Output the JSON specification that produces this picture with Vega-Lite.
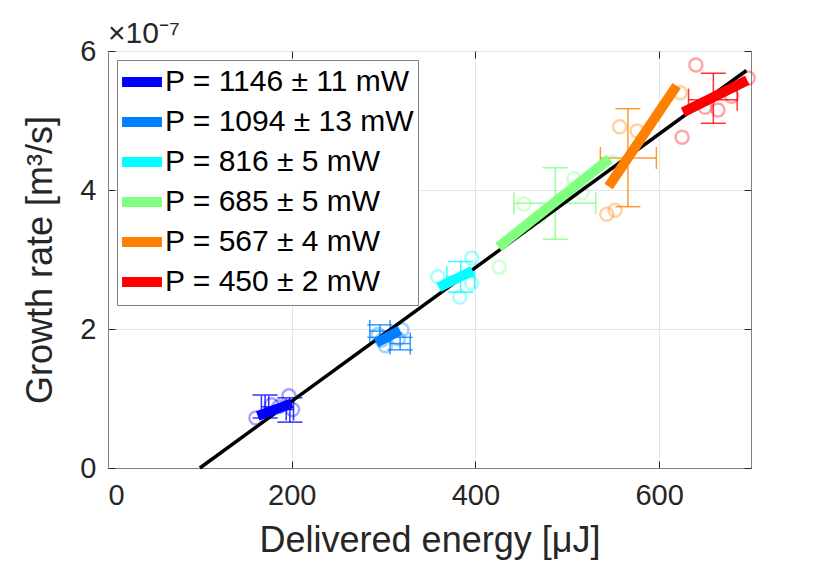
{
  "$schema": "https://vega.github.io/schema/vega-lite/v6.json",
  "width": 643,
  "height": 417,
  "autosize": {"type": "none"},
  "padding": {"left": 108, "top": 51, "right": 79, "bottom": 98},
  "background": "white",
  "config": {
    "font": "Liberation Sans",
    "view": {"stroke": "#808080", "strokeWidth": 1},
    "axis": {
      "labelFont": "Liberation Sans",
      "titleFont": "Liberation Sans",
      "labelFontSize": 29,
      "titleFontSize": 36,
      "titleFontWeight": "normal",
      "labelColor": "#262626",
      "titleColor": "#262626",
      "domainColor": "#808080",
      "tickColor": "#262626",
      "gridColor": "#e3e3e3",
      "tickSize": -7,
      "format": "d"
    },
    "legend": {
      "labelFont": "Liberation Sans",
      "labelFontSize": 30,
      "labelColor": "black"
    }
  },
  "title": {
    "text": "×10⁻⁷",
    "anchor": "start",
    "frame": "group",
    "fontSize": 30,
    "fontWeight": "normal",
    "color": "#262626",
    "font": "Liberation Sans",
    "offset": -12
  },
  "datasets": {
    "points": [
      {"series": "P = 1146 ± 11 mW", "energy": 161, "rate": 0.72},
      {"series": "P = 1146 ± 11 mW", "energy": 178, "rate": 0.91},
      {"series": "P = 1146 ± 11 mW", "energy": 186, "rate": 0.88},
      {"series": "P = 1146 ± 11 mW", "energy": 197, "rate": 1.04},
      {"series": "P = 1146 ± 11 mW", "energy": 201, "rate": 0.84},
      {"series": "P = 1094 ± 13 mW", "energy": 294, "rate": 1.92},
      {"series": "P = 1094 ± 13 mW", "energy": 302, "rate": 1.76},
      {"series": "P = 1094 ± 13 mW", "energy": 320, "rate": 1.99},
      {"series": "P = 1094 ± 13 mW", "energy": 316, "rate": 1.86},
      {"series": "P = 1094 ± 13 mW", "energy": 298, "rate": 1.84},
      {"series": "P = 816 ± 5 mW", "energy": 359, "rate": 2.75},
      {"series": "P = 816 ± 5 mW", "energy": 396, "rate": 3.02},
      {"series": "P = 816 ± 5 mW", "energy": 396, "rate": 2.66},
      {"series": "P = 816 ± 5 mW", "energy": 383, "rate": 2.46},
      {"series": "P = 685 ± 5 mW", "energy": 453, "rate": 3.80},
      {"series": "P = 685 ± 5 mW", "energy": 470, "rate": 3.62},
      {"series": "P = 685 ± 5 mW", "energy": 507, "rate": 4.16},
      {"series": "P = 685 ± 5 mW", "energy": 516, "rate": 3.96},
      {"series": "P = 685 ± 5 mW", "energy": 426, "rate": 2.89},
      {"series": "P = 685 ± 5 mW", "energy": 549, "rate": 4.40},
      {"series": "P = 567 ± 4 mW", "energy": 557, "rate": 4.91},
      {"series": "P = 567 ± 4 mW", "energy": 576, "rate": 4.85},
      {"series": "P = 567 ± 4 mW", "energy": 543, "rate": 3.65},
      {"series": "P = 567 ± 4 mW", "energy": 552, "rate": 3.71},
      {"series": "P = 567 ± 4 mW", "energy": 623, "rate": 5.40},
      {"series": "P = 450 ± 2 mW", "energy": 640, "rate": 5.80},
      {"series": "P = 450 ± 2 mW", "energy": 625, "rate": 4.76},
      {"series": "P = 450 ± 2 mW", "energy": 664, "rate": 5.15},
      {"series": "P = 450 ± 2 mW", "energy": 697, "rate": 5.61},
      {"series": "P = 450 ± 2 mW", "energy": 679, "rate": 5.35},
      {"series": "P = 450 ± 2 mW", "energy": 650, "rate": 5.19}
    ],
    "errbars": [
      {"series": "P = 1146 ± 11 mW", "energy": 171, "rate": 0.88, "elo": 167, "ehi": 175, "rlo": 0.72, "rhi": 1.05},
      {"series": "P = 1146 ± 11 mW", "energy": 198, "rate": 0.84, "elo": 194, "ehi": 202, "rlo": 0.66, "rhi": 1.01},
      {"series": "P = 1094 ± 13 mW", "energy": 296, "rate": 1.97, "elo": 285, "ehi": 307, "rlo": 1.88, "rhi": 2.06},
      {"series": "P = 1094 ± 13 mW", "energy": 318, "rate": 1.79, "elo": 307, "ehi": 329, "rlo": 1.70, "rhi": 1.88},
      {"series": "P = 816 ± 5 mW", "energy": 384, "rate": 2.75, "elo": 369, "ehi": 399, "rlo": 2.53, "rhi": 2.97},
      {"series": "P = 685 ± 5 mW", "energy": 487, "rate": 3.81, "elo": 442, "ehi": 531, "rlo": 3.29, "rhi": 4.32},
      {"series": "P = 567 ± 4 mW", "energy": 566, "rate": 4.46, "elo": 536, "ehi": 597, "rlo": 3.76, "rhi": 5.17},
      {"series": "P = 450 ± 2 mW", "energy": 659, "rate": 5.30, "elo": 632, "ehi": 685, "rlo": 4.96, "rhi": 5.68}
    ],
    "fits": [
      {"series": "P = 1146 ± 11 mW", "energy": 163, "rate": 0.75},
      {"series": "P = 1146 ± 11 mW", "energy": 200, "rate": 0.93},
      {"series": "P = 1094 ± 13 mW", "energy": 292, "rate": 1.80},
      {"series": "P = 1094 ± 13 mW", "energy": 318, "rate": 1.98},
      {"series": "P = 816 ± 5 mW", "energy": 360, "rate": 2.60},
      {"series": "P = 816 ± 5 mW", "energy": 397, "rate": 2.84},
      {"series": "P = 685 ± 5 mW", "energy": 425, "rate": 3.18},
      {"series": "P = 685 ± 5 mW", "energy": 546, "rate": 4.45},
      {"series": "P = 567 ± 4 mW", "energy": 545, "rate": 4.05},
      {"series": "P = 567 ± 4 mW", "energy": 619, "rate": 5.50},
      {"series": "P = 450 ± 2 mW", "energy": 626, "rate": 5.12},
      {"series": "P = 450 ± 2 mW", "energy": 696, "rate": 5.58}
    ],
    "overall": [
      {"energy": 100, "rate": 0},
      {"energy": 695, "rate": 5.72}
    ]
  },
  "resolve": {"axis": {"x": "independent", "y": "independent"}},
  "layer": [
    {
      "layer": [
        {
          "data": {"name": "errbars"},
          "mark": {"type": "rule", "strokeWidth": 1.5, "strokeOpacity": 0.8},
          "encoding": {
            "x": {"field": "energy", "type": "quantitative", "title": "Delivered energy [μJ]",
              "scale": {"domain": [0, 700], "nice": false},
              "axis": {"values": [0, 200, 400, 600], "grid": true, "labelPadding": 20, "titlePadding": 13}},
            "y": {"field": "rlo", "type": "quantitative", "title": "Growth rate [m³/s]",
              "scale": {"domain": [0, 6], "nice": false},
              "axis": {"values": [0, 2, 4, 6], "grid": true, "labelPadding": 19, "titlePadding": 20}},
            "y2": {"field": "rhi"},
            "stroke": {"field": "series", "type": "nominal", "legend": null,
              "scale": {"domain": ["P = 450 ± 2 mW", "P = 567 ± 4 mW", "P = 685 ± 5 mW", "P = 816 ± 5 mW", "P = 1094 ± 13 mW", "P = 1146 ± 11 mW"],
                "range": ["#ff0000", "#ff8000", "#80ff80", "#00ffff", "#0080ff", "#0000ff"]}}
          }
        },
        {
          "data": {"name": "errbars"},
          "mark": {"type": "rule", "strokeWidth": 1.5, "strokeOpacity": 0.8},
          "encoding": {
            "x": {"field": "elo", "type": "quantitative", "title": "Delivered energy [μJ]", "scale": {"domain": [0, 700], "nice": false}},
            "x2": {"field": "ehi"},
            "y": {"field": "rate", "type": "quantitative", "title": "Growth rate [m³/s]", "scale": {"domain": [0, 6], "nice": false}},
            "stroke": {"field": "series", "type": "nominal", "legend": null}
          }
        },
        {
          "data": {"name": "errbars"},
          "mark": {"type": "tick", "orient": "horizontal", "size": 25, "thickness": 1.5, "fillOpacity": 0.8},
          "encoding": {
            "x": {"field": "energy", "type": "quantitative", "title": "Delivered energy [μJ]", "scale": {"domain": [0, 700], "nice": false}},
            "y": {"field": "rlo", "type": "quantitative", "title": "Growth rate [m³/s]", "scale": {"domain": [0, 6], "nice": false}},
            "fill": {"field": "series", "type": "nominal", "legend": null,
              "scale": {"domain": ["P = 1094 ± 13 mW", "P = 816 ± 5 mW", "P = 685 ± 5 mW", "P = 567 ± 4 mW", "P = 450 ± 2 mW", "P = 1146 ± 11 mW"],
                "range": ["#0080ff", "#00ffff", "#80ff80", "#ff8000", "#ff0000", "#0000ff"]}}
          }
        },
        {
          "data": {"name": "errbars"},
          "mark": {"type": "tick", "orient": "horizontal", "size": 25, "thickness": 1.5, "fillOpacity": 0.8},
          "encoding": {
            "x": {"field": "energy", "type": "quantitative", "title": "Delivered energy [μJ]", "scale": {"domain": [0, 700], "nice": false}},
            "y": {"field": "rhi", "type": "quantitative", "title": "Growth rate [m³/s]", "scale": {"domain": [0, 6], "nice": false}},
            "fill": {"field": "series", "type": "nominal", "legend": null}
          }
        },
        {
          "data": {"name": "errbars"},
          "mark": {"type": "tick", "orient": "vertical", "size": 22, "thickness": 1.5, "fillOpacity": 0.8},
          "encoding": {
            "x": {"field": "elo", "type": "quantitative", "title": "Delivered energy [μJ]", "scale": {"domain": [0, 700], "nice": false}},
            "y": {"field": "rate", "type": "quantitative", "title": "Growth rate [m³/s]", "scale": {"domain": [0, 6], "nice": false}},
            "fill": {"field": "series", "type": "nominal", "legend": null}
          }
        },
        {
          "data": {"name": "errbars"},
          "mark": {"type": "tick", "orient": "vertical", "size": 22, "thickness": 1.5, "fillOpacity": 0.8},
          "encoding": {
            "x": {"field": "ehi", "type": "quantitative", "title": "Delivered energy [μJ]", "scale": {"domain": [0, 700], "nice": false}},
            "y": {"field": "rate", "type": "quantitative", "title": "Growth rate [m³/s]", "scale": {"domain": [0, 6], "nice": false}},
            "fill": {"field": "series", "type": "nominal", "legend": null}
          }
        },
        {
          "data": {"name": "points"},
          "mark": {"type": "point", "shape": "circle", "filled": false, "size": 170, "strokeWidth": 2.5, "strokeOpacity": 0.5},
          "encoding": {
            "x": {"field": "energy", "type": "quantitative", "title": "Delivered energy [μJ]", "scale": {"domain": [0, 700], "nice": false}},
            "y": {"field": "rate", "type": "quantitative", "title": "Growth rate [m³/s]", "scale": {"domain": [0, 6], "nice": false}},
            "stroke": {"field": "series", "type": "nominal", "legend": null}
          }
        }
      ]
    },
    {
      "data": {"name": "overall"},
      "mark": {"type": "line", "color": "black", "strokeWidth": 3.5},
      "encoding": {
        "x": {"field": "energy", "type": "quantitative", "scale": {"domain": [0, 700], "nice": false},
          "axis": {"orient": "top", "values": [0, 200, 400, 600], "labels": false, "domain": false, "grid": false, "title": null}},
        "y": {"field": "rate", "type": "quantitative", "scale": {"domain": [0, 6], "nice": false},
          "axis": {"orient": "right", "values": [0, 2, 4, 6], "labels": false, "domain": false, "grid": false, "title": null}}
      }
    },
    {
      "data": {"name": "fits"},
      "mark": {"type": "line", "strokeWidth": 10, "strokeCap": "butt"},
      "encoding": {
        "x": {"field": "energy", "type": "quantitative", "scale": {"domain": [0, 700], "nice": false}, "axis": null},
        "y": {"field": "rate", "type": "quantitative", "scale": {"domain": [0, 6], "nice": false}, "axis": null},
        "detail": {"field": "series"},
        "color": {"field": "series", "type": "nominal",
          "scale": {"domain": ["P = 1146 ± 11 mW", "P = 1094 ± 13 mW", "P = 816 ± 5 mW", "P = 685 ± 5 mW", "P = 567 ± 4 mW", "P = 450 ± 2 mW"],
            "range": ["#0000ff", "#0080ff", "#00ffff", "#80ff80", "#ff8000", "#ff0000"]},
          "legend": {
            "title": null,
            "orient": "top-left",
            "offset": 9,
            "padding": 3,
            "strokeColor": "#808080",
            "fillColor": "white",
            "symbolType": "M-1.21,0H1.64",
            "symbolSize": 784,
            "symbolStrokeWidth": 10,
            "symbolOpacity": 1,
            "labelOffset": 7,
            "rowPadding": 0,
            "labelLimit": 400
          }}
      }
    }
  ]
}
